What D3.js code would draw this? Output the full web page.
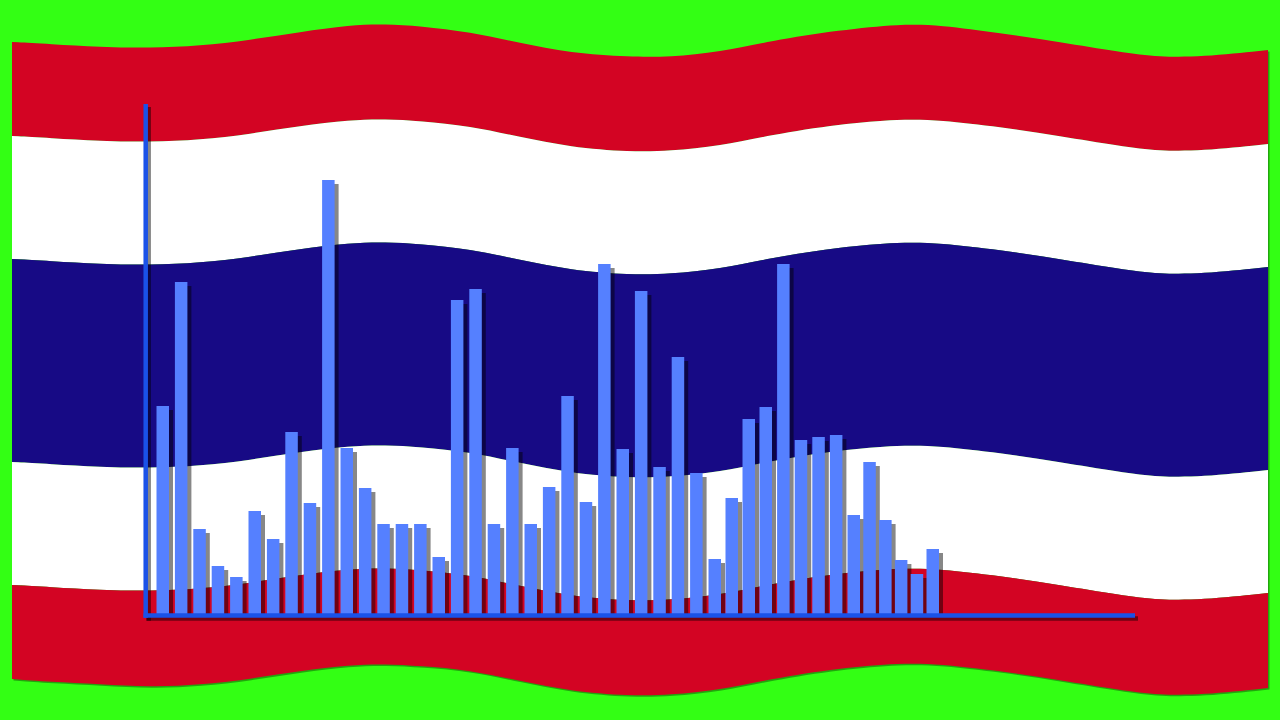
<!DOCTYPE html>
<html>
<head>
<meta charset="utf-8">
<title>Bars over waving flag</title>
<script src="https://cdn.jsdelivr.net/npm/d3@7/dist/d3.min.js"></script>
<style>
  html, body { margin: 0; padding: 0; background: #33ff14; }
  svg { display: block; }
</style>
</head>
<body>
<div id="chart"></div>
<script>
const width = 1280, height = 720;

// flag edges at the sample columns below
const waveColumns = [12, 50, 100, 150, 200, 250, 300, 350, 385, 420, 470, 520, 570, 630, 670, 720, 770, 840, 900, 940, 1000, 1060, 1120, 1160, 1200, 1268];
const edgeTop = [42, 44, 47, 48, 46, 40, 32, 25, 24, 26, 32, 43, 53, 57, 57, 52, 41, 30, 24, 25, 33, 42, 52, 57, 57, 50];
const edgeRedWhite = [136, 138, 141, 142, 140, 134, 126, 120, 119, 121, 126, 137, 147, 152, 151, 146, 135, 124, 119, 120, 127, 136, 146, 151, 151, 144];
const edgeWhiteBlue = [259, 261, 264, 265, 263, 257, 249, 243, 242, 244, 249, 260, 270, 275, 274, 269, 258, 247, 242, 243, 250, 259, 269, 274, 274, 267];
const edgeBlueWhite = [462, 464, 467, 468, 466, 460, 452, 446, 445, 447, 452, 463, 473, 478, 477, 472, 461, 450, 445, 446, 453, 462, 472, 477, 477, 470];
const edgeWhiteRed = [585, 587, 590, 591, 589, 583, 575, 569, 568, 570, 575, 586, 596, 601, 600, 595, 584, 573, 568, 569, 576, 585, 595, 600, 600, 593];
const edgeBottom = [679, 682, 684, 687, 685, 679, 671, 665, 664, 666, 670, 681, 691, 696, 695, 690, 679, 668, 663, 664, 671, 680, 690, 695, 695, 688];

// bar heights above the baseline
const barValues = [208, 332, 85, 48, 37, 103, 75, 182, 111, 434, 166, 126, 90, 90, 90, 57,
  314, 325, 90, 166, 90, 127, 218, 112, 350, 165, 323, 147, 257, 141, 55, 116,
  195, 207, 350, 174, 177, 179, 99, 152, 94, 54, 40, 65];

const colors = {
  green: "#33ff14",
  red: "#d30423",
  white: "#ffffff",
  navy: "#170a85",
  bar: "#5580ff",
  axis: "#1a52e8"
};

const svg = d3.select("#chart")
  .append("svg")
  .attr("width", width)
  .attr("height", height);

svg.append("rect")
  .attr("width", width)
  .attr("height", height)
  .attr("fill", colors.green);

const bands = [
  { upper: edgeTop, lower: edgeRedWhite, fill: colors.red },
  { upper: edgeRedWhite, lower: edgeWhiteBlue, fill: colors.white },
  { upper: edgeWhiteBlue, lower: edgeBlueWhite, fill: colors.navy },
  { upper: edgeBlueWhite, lower: edgeWhiteRed, fill: colors.white },
  { upper: edgeWhiteRed, lower: edgeBottom, fill: colors.red }
];

function bandPath(band) {
  return d3.area()
    .x((d, i) => waveColumns[i])
    .y0((d, i) => band.upper[i])
    .y1((d, i) => band.lower[i])
    .curve(d3.curveBasis)(waveColumns);
}

// soft edge under the flag
svg.append("path")
  .attr("d", bandPath({ upper: edgeTop, lower: edgeBottom }))
  .attr("transform", "translate(1.5,1.5)")
  .attr("fill", "#000")
  .attr("opacity", 0.35);

svg.append("g")
  .selectAll("path")
  .data(bands)
  .join("path")
  .attr("d", bandPath)
  .attr("fill", d => d.fill);

// bars are a little tighter towards the right end
const x = d3.scaleLinear()
  .domain([0, 30, 33, 38, 43])
  .range([156.5, 708.5, 759.5, 847.5, 926.5]);

const y = d3.scaleLinear()
  .domain([0, 434])
  .range([614, 180]);

const barWidth = 12.5;
const shadow = 4;

const plot = svg.append("g");

plot.append("g")
  .selectAll("rect")
  .data(barValues)
  .join("rect")
  .attr("x", (d, i) => x(i) + shadow)
  .attr("y", d => y(d) + shadow)
  .attr("width", barWidth)
  .attr("height", d => y(0) - y(d) - shadow)
  .attr("fill", "#000")
  .attr("opacity", 0.47);

plot.append("g")
  .selectAll("rect")
  .data(barValues)
  .join("rect")
  .attr("x", (d, i) => x(i))
  .attr("y", d => y(d))
  .attr("width", barWidth)
  .attr("height", d => y(0) - y(d))
  .attr("fill", colors.bar);

// axes: drop shadow first, then the line on top
const axisLines = [
  { x1: 145.7, y1: 104, x2: 145.7, y2: 617.7 },
  { x1: 143.5, y1: 615.5, x2: 1135, y2: 615.5 }
];

plot.append("g")
  .selectAll("line")
  .data(axisLines)
  .join("line")
  .attr("x1", d => d.x1 + 3)
  .attr("y1", d => d.y1 + 3)
  .attr("x2", d => d.x2 + 3)
  .attr("y2", d => d.y2 + 3)
  .attr("stroke", "#000")
  .attr("stroke-opacity", 0.47)
  .attr("stroke-width", 4.5);

plot.append("g")
  .selectAll("line")
  .data(axisLines)
  .join("line")
  .attr("x1", d => d.x1)
  .attr("y1", d => d.y1)
  .attr("x2", d => d.x2)
  .attr("y2", d => d.y2)
  .attr("stroke", colors.axis)
  .attr("stroke-width", 4.5);
</script>
</body>
</html>
